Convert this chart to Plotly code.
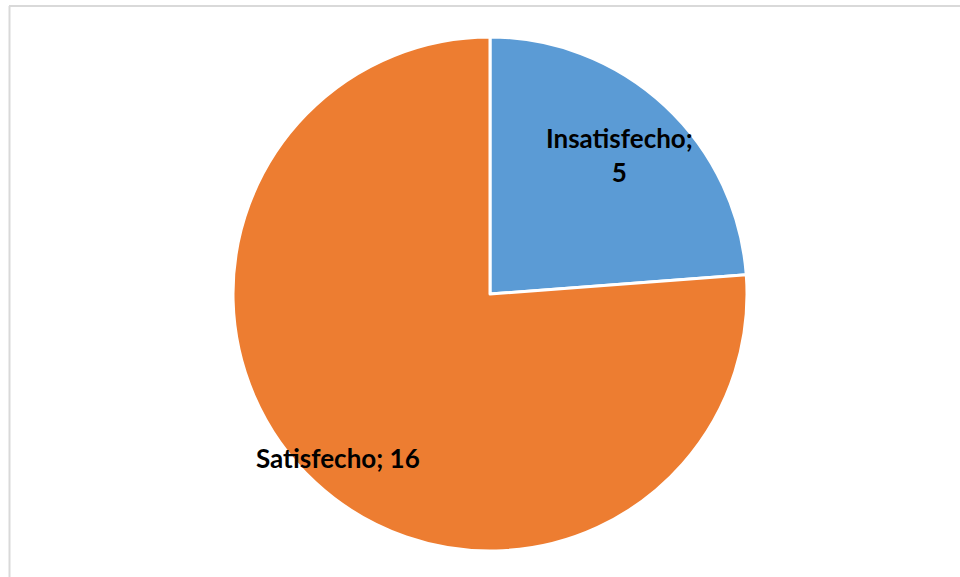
import math
import plotly.graph_objects as go

labels = ["Insatisfecho", "Satisfecho"]
values = [5, 16]
colors = ["#5B9BD5", "#ED7D31"]
label_texts = ["Insatisfecho;<br>5", "Satisfecho; 16"]
label_radius = [0.74, 0.87]

W, H = 960, 577
cx, cy, R = 490, 294, 257

fig = go.Figure(go.Pie(
    labels=labels, values=values, sort=False, direction="clockwise", rotation=0,
    marker=dict(colors=colors, line=dict(color="white", width=3)),
    textinfo="none", hoverinfo="label+value", showlegend=False,
    domain=dict(x=[(cx - R) / W, (cx + R) / W], y=[(H - cy - R) / H, (H - cy + R) / H]),
))

total = sum(values)
start = 0.0
annotations = []
for v, t, f in zip(values, label_texts, label_radius):
    mid = (start + v / 2) / total * 2 * math.pi
    start += v
    px = cx + f * R * math.sin(mid)
    py = cy - f * R * math.cos(mid)
    annotations.append(dict(
        x=px / W, y=1 - py / H, xref="paper", yref="paper", text=t, showarrow=False,
        font=dict(family="Lato, 'Open Sans', sans-serif", size=26, color="black"),
        xanchor="center", yanchor="middle", align="center",
    ))

shapes = [
    dict(type="line", xref="paper", yref="paper", x0=9 / W, x1=1.01, y0=1 - 6 / H, y1=1 - 6 / H,
         line=dict(color="#d9d9d9", width=2)),
    dict(type="line", xref="paper", yref="paper", x0=9.5 / W, x1=9.5 / W, y0=1 - 6 / H, y1=-0.01,
         line=dict(color="#d9d9d9", width=2)),
]

fig.update_layout(
    width=W, height=H, margin=dict(l=0, r=0, t=0, b=0),
    paper_bgcolor="white", plot_bgcolor="white",
    annotations=annotations, shapes=shapes,
)
fig.update_annotations(font_weight="bold")
fig.write_html("out.html")
